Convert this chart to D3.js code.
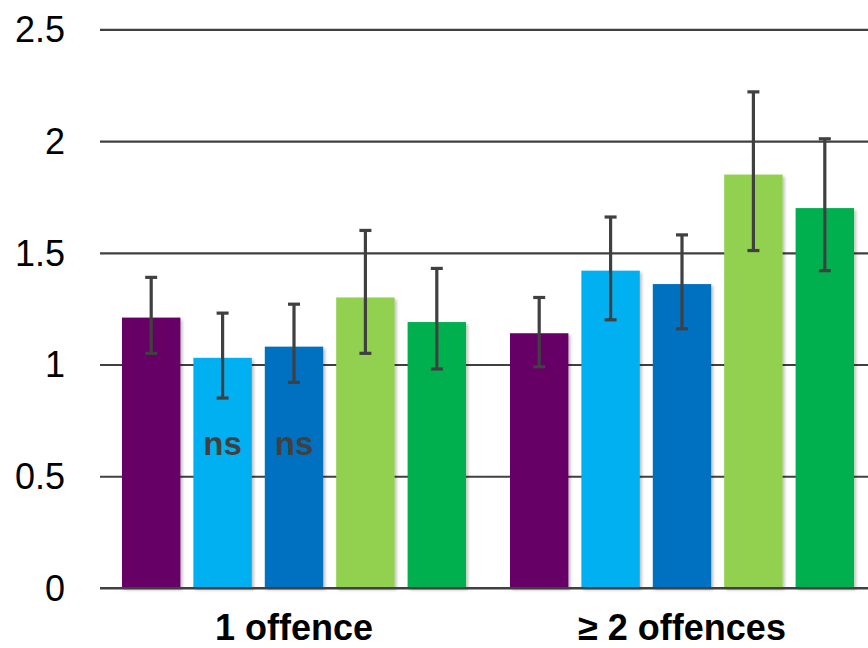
<!DOCTYPE html>
<html>
<head>
<meta charset="utf-8">
<script src="https://cdn.jsdelivr.net/npm/d3@7"></script>
<style>
  body { margin: 0; background: #fff; }
  svg { display: block; font-family: Arial, "Liberation Sans", sans-serif; }
</style>
</head>
<body>
<svg id="chart" width="868" height="648"></svg>
<script>
const categories = ['1 offence', '\u2265 2 offences'];
const series = ['s1', 's2', 's3', 's4', 's5'];
const colors = ['#660066', '#00B0F0', '#0070C0', '#92D050', '#00B050'];

// bar values per category, one entry per series
const values1 = [1.21, 1.03, 1.08, 1.30, 1.19];
const values2 = [1.14, 1.42, 1.36, 1.85, 1.70];
// error bar limits
const low1 = [1.05, 0.85, 0.92, 1.05, 0.98];
const high1 = [1.39, 1.23, 1.27, 1.60, 1.43];
const low2 = [0.99, 1.20, 1.16, 1.51, 1.42];
const high2 = [1.30, 1.66, 1.58, 2.22, 2.01];
// "ns" markers
const notSig1 = [false, true, true, false, false];
const notSig2 = [false, false, false, false, false];

const yTicks = [0, 0.5, 1, 1.5, 2, 2.5];

const rows = [
  { cat: categories[0], vals: values1, lo: low1, hi: high1, ns: notSig1 },
  { cat: categories[1], vals: values2, lo: low2, hi: high2, ns: notSig2 }
];

const svg = d3.select('#chart');

// drop shadow for the bars
const defs = svg.append('defs');
defs.append('filter')
  .attr('id', 'shadow')
  .attr('x', '-10%').attr('y', '-10%')
  .attr('width', '130%').attr('height', '130%')
  .append('feDropShadow')
  .attr('dx', 2).attr('dy', 2)
  .attr('stdDeviation', 1.5)
  .attr('flood-color', '#000')
  .attr('flood-opacity', 0.25);

const left = 100;
const right = 876;

const x0 = d3.scaleBand()
  .domain(categories)
  .range([left, right]);

const x1 = d3.scaleBand()
  .domain(series)
  .range([0, x0.bandwidth()])
  .paddingInner(0.182)
  .paddingOuter(0.308);

const y = d3.scaleLinear()
  .domain([0, 2.5])
  .range([588, 29.3]);

// gridlines
svg.append('g')
  .attr('class', 'grid')
  .attr('transform', `translate(${left},0)`)
  .call(d3.axisLeft(y).tickValues(yTicks).tickSize(-(868 - left)).tickFormat(''))
  .call(g => g.select('.domain').remove())
  .call(g => g.selectAll('.tick line')
    .attr('stroke', '#404040')
    .attr('stroke-width', 2.2));

// y labels
svg.append('g')
  .selectAll('text')
  .data(yTicks)
  .enter().append('text')
  .attr('x', 65)
  .attr('y', d => y(d))
  .attr('dy', '0.36em')
  .attr('text-anchor', 'end')
  .attr('font-size', 36)
  .attr('fill', '#000')
  .text(d => d);

const groups = svg.selectAll('.group')
  .data(rows)
  .enter().append('g')
  .attr('class', 'group')
  .attr('transform', d => `translate(${x0(d.cat)},0)`);

const items = d => d.vals.map((v, i) => ({
  s: series[i], v: v, lo: d.lo[i], hi: d.hi[i], ns: d.ns[i], c: colors[i]
}));

groups.selectAll('rect')
  .data(items)
  .enter().append('rect')
  .attr('x', d => x1(d.s))
  .attr('y', d => y(d.v))
  .attr('width', x1.bandwidth())
  .attr('height', d => y(0) - y(d.v))
  .attr('fill', d => d.c)
  .attr('filter', 'url(#shadow)');

// redraw base line above bars' shadows
svg.append('line')
  .attr('x1', left).attr('x2', 868)
  .attr('y1', y(0)).attr('y2', y(0))
  .attr('stroke', '#404040')
  .attr('stroke-width', 2.2);

const cap = 6;
const err = groups.selectAll('.err')
  .data(items)
  .enter().append('g')
  .attr('class', 'err')
  .attr('stroke', '#404040')
  .attr('stroke-width', 3.2);

err.append('line')
  .attr('x1', d => x1(d.s) + x1.bandwidth() / 2)
  .attr('x2', d => x1(d.s) + x1.bandwidth() / 2)
  .attr('y1', d => y(d.lo))
  .attr('y2', d => y(d.hi));

err.append('line')
  .attr('x1', d => x1(d.s) + x1.bandwidth() / 2 - cap)
  .attr('x2', d => x1(d.s) + x1.bandwidth() / 2 + cap)
  .attr('y1', d => y(d.hi))
  .attr('y2', d => y(d.hi));

err.append('line')
  .attr('x1', d => x1(d.s) + x1.bandwidth() / 2 - cap)
  .attr('x2', d => x1(d.s) + x1.bandwidth() / 2 + cap)
  .attr('y1', d => y(d.lo))
  .attr('y2', d => y(d.lo));

groups.selectAll('.ns')
  .data(d => items(d).filter(e => e.ns))
  .enter().append('text')
  .attr('class', 'ns')
  .attr('x', d => x1(d.s) + x1.bandwidth() / 2)
  .attr('y', 455)
  .attr('text-anchor', 'middle')
  .attr('font-size', 33)
  .attr('font-weight', 'bold')
  .attr('fill', '#404040')
  .text('ns');

// category labels
svg.append('g')
  .selectAll('text')
  .data(categories)
  .enter().append('text')
  .attr('x', d => x0(d) + x0.bandwidth() / 2)
  .attr('y', 640)
  .attr('text-anchor', 'middle')
  .attr('font-size', 36)
  .attr('font-weight', 'bold')
  .attr('fill', '#000')
  .text(d => d);
</script>
</body>
</html>
